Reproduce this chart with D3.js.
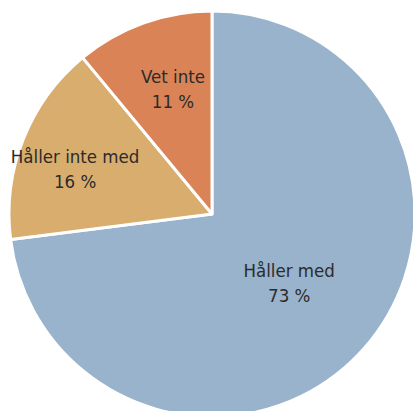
<!DOCTYPE html>
<html>
<head>
<meta charset="utf-8">
<script src="https://cdn.jsdelivr.net/npm/d3@7"></script>
<style>
  html, body { margin: 0; padding: 0; background: #fff; }
  svg { display: block; }
</style>
</head>
<body>
<svg id="chart" width="413" height="411"></svg>
<script>
// Survey answers, share of respondents (%)
const categories = ["Håller med", "Håller inte med", "Vet inte"];
const shares = [73, 16, 11];
const colors = ["#98b3cb", "#d8ad6e", "#d98357"];

const width = 413, height = 411;
const cx = 212, cy = 214, radius = 203;

// Label placement: distance from centre (fraction of radius) plus a small nudge in px
const labelLayout = {
  "Håller med":      { r: 0.52, dx: -2, dy: -3 },
  "Håller inte med": { r: 0.72, dx: -1, dy: 6.5 },
  "Vet inte":        { r: 0.64, dx: 5,  dy: -5 }
};

const svg = d3.select("#chart");
const g = svg.append("g").attr("transform", `translate(${cx},${cy})`);

const data = categories.map((c, i) => ({ category: c, value: shares[i], color: colors[i] }));

const pie = d3.pie().value(d => d.value).sort(null);
const arcs = pie(data);
const arc = d3.arc().innerRadius(0).outerRadius(radius);

g.selectAll("path.slice")
  .data(arcs)
  .join("path")
  .attr("class", "slice")
  .attr("d", arc)
  .attr("fill", d => d.data.color)
  .attr("stroke", "#fff")
  .attr("stroke-width", 3)
  .attr("stroke-linejoin", "round");

const labels = g.selectAll("text.label")
  .data(arcs)
  .join("text")
  .attr("class", "label")
  .attr("text-anchor", "middle")
  .attr("font-family", "'DejaVu Sans Condensed', sans-serif")
  .attr("font-size", 18.5)
  .attr("fill", "#2b2b2b")
  .attr("transform", d => {
    const L = labelLayout[d.data.category];
    const r = radius * L.r;
    const a = (d.startAngle + d.endAngle) / 2;
    return `translate(${r * Math.sin(a) + L.dx},${-r * Math.cos(a) + L.dy})`;
  });

labels.append("tspan")
  .attr("x", 0)
  .attr("dy", "-0.2em")
  .text(d => d.data.category);

labels.append("tspan")
  .attr("x", 0)
  .attr("dy", "1.35em")
  .text(d => d.data.value + " %");
</script>
</body>
</html>
